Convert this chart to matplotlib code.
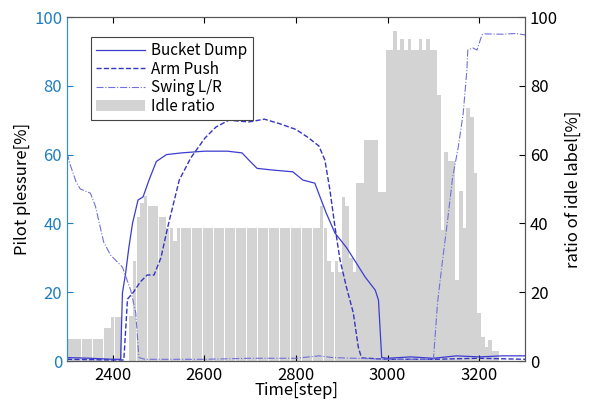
import numpy as np
import matplotlib
matplotlib.use("Agg")
import matplotlib.pyplot as plt

plt.rcParams['font.family'] = ['Noto Sans CJK JP', 'DejaVu Sans']

# pilot pressure curves (step, %)
bucket_t = [2300, 2350, 2400, 2417, 2421, 2428, 2435, 2443, 2455, 2466, 2479, 2495, 2517, 2550,
            2600, 2650, 2682, 2700, 2715, 2750, 2793, 2815, 2841, 2855, 2866, 2885, 2910, 2932,
            2951, 2973, 2980, 2987, 3000, 3050, 3100, 3150, 3200, 3250, 3300]
bucket_v = [1.0, 0.8, 0.5, 0.5, 19.8, 25.6, 33, 40, 46.8, 47.7, 52.6, 58, 60, 60.5,
            61, 61, 60.5, 58, 56, 55.5, 55, 52.6, 51.7, 46.8, 43, 37.2, 33, 28.4,
            24.4, 20.6, 17.7, 1.0, 0.8, 1.2, 0.8, 1.5, 1.2, 1.5, 1.5]

arm_t = [2300, 2400, 2424, 2428, 2432, 2445, 2460, 2475, 2490, 2505, 2520, 2545, 2570, 2601,
         2625, 2653, 2697, 2731, 2764, 2800, 2826, 2850, 2863, 2874, 2885, 2896, 2910, 2925,
         2936, 2943, 3000, 3100, 3200, 3300]
arm_v = [0.5, 0.3, 0.3, 9, 18, 20, 23, 25, 25, 30, 39, 52.6, 59, 64.8,
         68, 70, 69.5, 70.3, 69, 67.3, 65, 62.5, 58.4, 49.7, 39, 29.4, 21.5, 14,
         4, 0.9, 0.5, 0.5, 0.8, 0.5]

swing_t = [2300, 2307, 2320, 2329, 2351, 2362, 2380, 2395, 2421, 2439, 2450, 2457, 2470, 2600,
           2700, 2800, 2850, 2880, 3000, 3100, 3109, 3120, 3131, 3142, 3154, 3165, 3173, 3175,
           3186, 3195, 3206, 3213, 3250, 3280, 3300]
swing_v = [60.5, 57, 52, 50, 48.8, 45, 34.6, 30.8, 27.3, 20.6, 14, 1, 0.5, 0.5,
           0.8, 0.8, 1.5, 1, 0.5, 0.5, 17, 29.4, 41, 53.5, 62, 72, 84.6, 90.4,
           91, 90.4, 94.8, 95.1, 95, 95.2, 94.8]

# idle ratio, one value per 8-step bin starting at 2300
bin_start = 2300
bin_width = 8
idle_ratio = ([6.3] * 10 + [9.6] * 2 + [12.9] * 3 + [0] * 2 +
              [13, 29, 42, 46, 48, 45, 45, 45, 42, 42, 38.6, 38.6, 35] +
              [38.6] * 39 +
              [45, 38.6, 29, 26, 29, 26, 47.7, 45, 30, 26, 51.7, 51.7] +
              [64.2] * 4 + [49, 49, 90.4] +
              [90.4, 96, 90.4, 93.6, 90.4, 93.6, 90.4, 90.4, 93.6, 90.4, 93.6, 90.4, 90.4] +
              [77.4, 38, 60.8, 58, 58, 23.6, 49.4, 38.6, 73.5, 71, 54.6, 14, 7, 4, 6, 3, 3])

fig = plt.figure(figsize=(5.9, 4.05), dpi=100)
ax = fig.add_axes([0.1136, 0.1086, 0.7763, 0.8494])
ax2 = ax.twinx()

edges = bin_start + bin_width * np.arange(len(idle_ratio))
bars = ax2.bar(edges, idle_ratio, width=bin_width * 0.95, align='edge',
               color='#d3d3d3', linewidth=0, label='Idle ratio')

l1, = ax.plot(bucket_t, bucket_v, '-', color='#3c3cd0', lw=0.9, label='Bucket Dump')
l2, = ax.plot(arm_t, arm_v, '--', color='#3535c4', lw=1.0, label='Arm Push')
l3, = ax.plot(swing_t, swing_v, '-.', color='#7070dc', lw=0.8, label='Swing L/R')

ax.set_zorder(ax2.get_zorder() + 1)
ax.patch.set_visible(False)

for a in (ax, ax2):
    a.set_xlim(2300, 3300)
    a.set_ylim(0, 100)
    a.set_yticks([0, 20, 40, 60, 80, 100])

ax.set_xticks([2400, 2600, 2800, 3000, 3200])
ax.tick_params(axis='x', direction='in', top=True, labelsize=12, pad=4, length=4)
ax.tick_params(axis='y', direction='in', colors='#1f7fbf', labelsize=12, length=4, labelcolor='#1f7fbf')
ax2.tick_params(axis='y', direction='in', labelsize=12, length=4)

blue = '#3a8fc8'
ax.spines['left'].set_color(blue)
ax2.spines['left'].set_color(blue)
for s in ('top', 'bottom', 'right'):
    ax.spines[s].set_color('#555555')
    ax2.spines[s].set_color('#555555')

ax.set_xlabel('Time[step]', fontsize=12, labelpad=-1)
ax.set_ylabel('Pilot plessure[%]', fontsize=12, labelpad=2)
ax2.set_ylabel('ratio of idle label[%]', fontsize=12, rotation=90, labelpad=5)

leg = ax.legend([l1, l2, l3, bars], ['Bucket Dump', 'Arm Push', 'Swing L/R', 'Idle ratio'],
                loc='upper left', bbox_to_anchor=(0.035, 0.965), fontsize=11,
                fancybox=False, framealpha=1, edgecolor='#444444',
                handlelength=3.2, labelspacing=0.1, borderpad=0.35, handletextpad=0.4)
leg.get_frame().set_linewidth(0.8)

fig.savefig('out.png', dpi=100)
